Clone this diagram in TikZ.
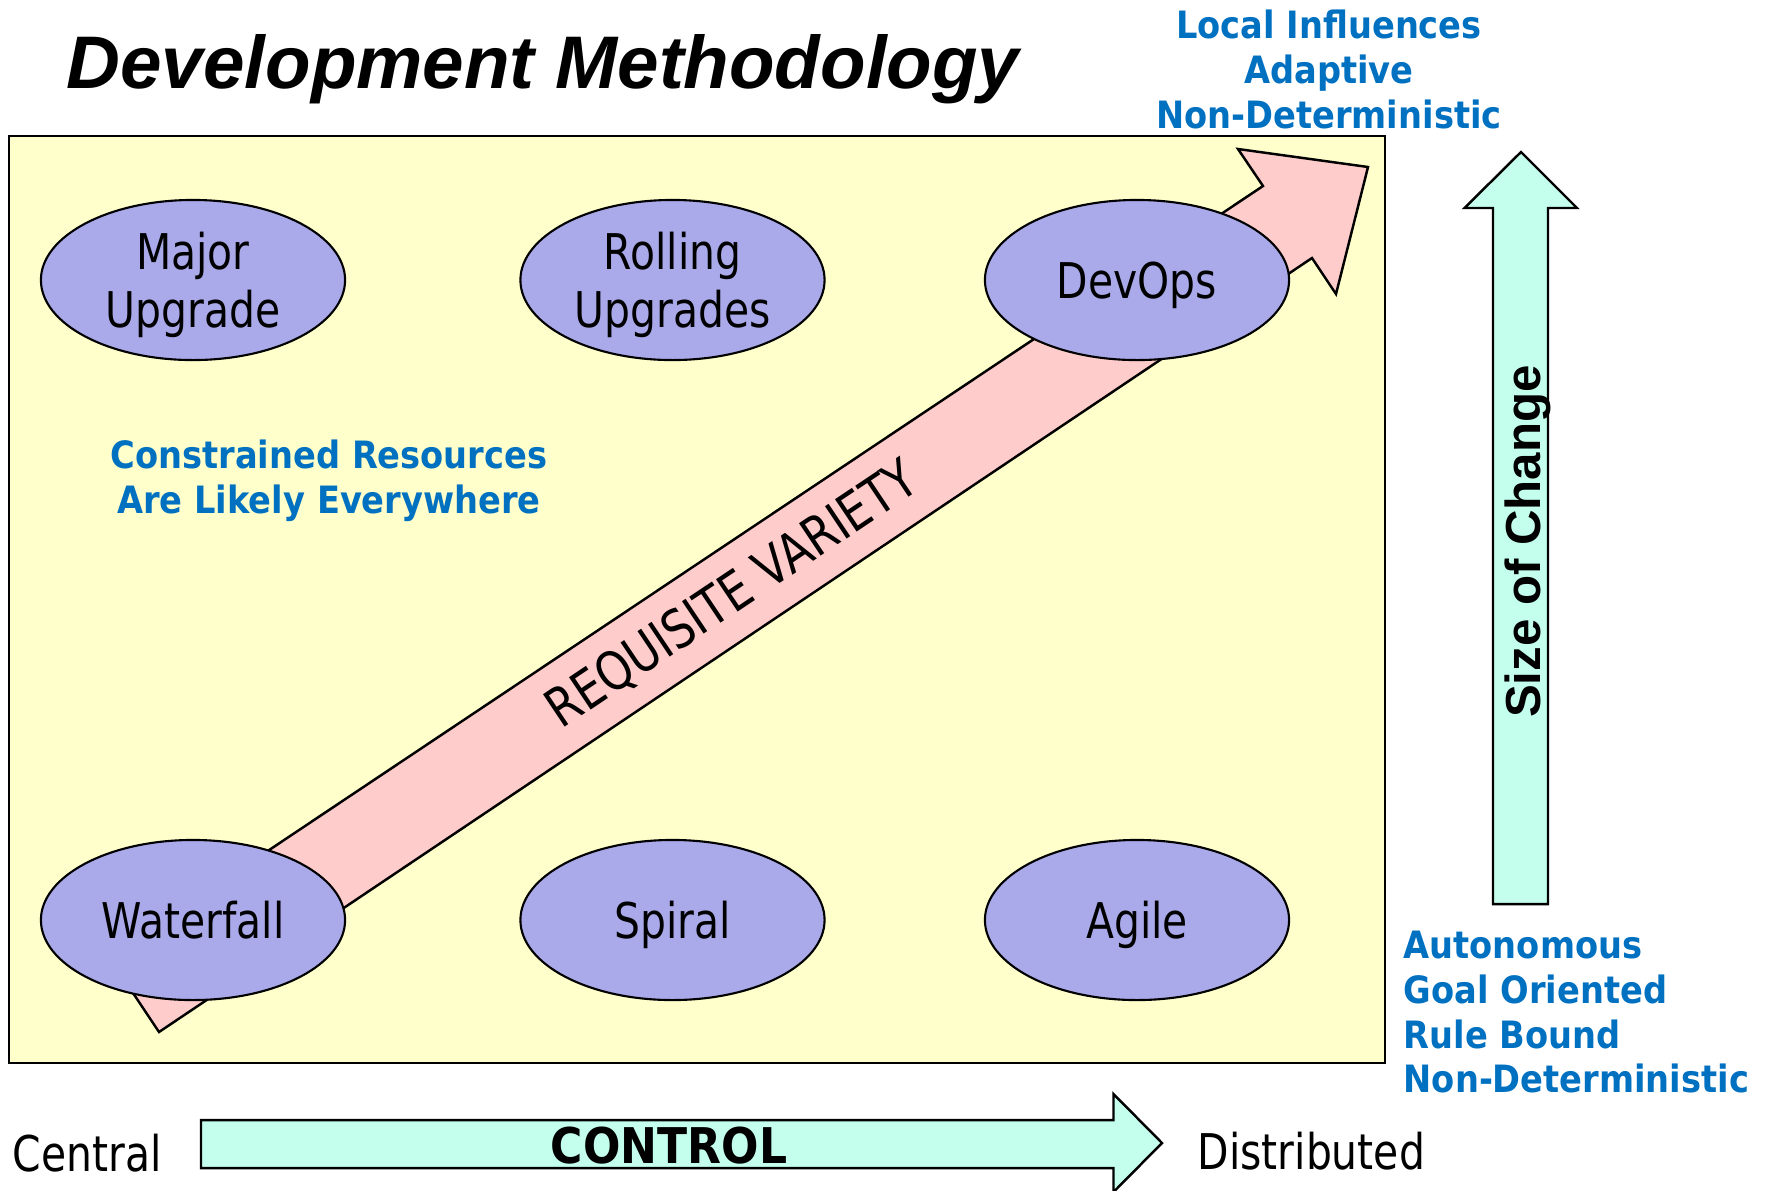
\documentclass[tikz,border=0pt]{standalone}
\usepackage{fontspec}
\usepackage{tikz}
\usetikzlibrary{shapes.geometric}

\newfontfamily\bodyfont{DejaVu Sans}[FakeStretch=0.83]
\newfontfamily\boldfont{DejaVu Sans}[FakeStretch=0.895]
\newfontfamily\titlefont{Liberation Sans}

\definecolor{boxyellow}{RGB}{255,255,204}
\definecolor{ovalblue}{RGB}{170,170,234}
\definecolor{arrowpink}{RGB}{255,204,204}
\definecolor{arrowcyan}{RGB}{196,255,238}
\definecolor{noteblue}{RGB}{0,112,192}

\begin{document}
\begin{tikzpicture}[x=0.01cm, y=-0.01cm,
    method/.style={ellipse, draw=black, line width=0.6pt, fill=ovalblue, minimum width=3.04cm, minimum height=1.6cm, inner sep=0pt, outer sep=0pt, align=center, text depth=0pt, font=\bodyfont\fontsize{14}{16.5}\selectfont},
    note/.style={text=noteblue, inner sep=0pt, font=\boldfont\bfseries\fontsize{10.7}{12.66}\selectfont},
    plain/.style={inner sep=0pt, font=\bodyfont\fontsize{14}{16.5}\selectfont},
    blockarrow/.style={draw=black, line width=0.7pt, line join=miter}
]

\clip (0,0) rectangle (1769,1190);

% Title
\node[anchor=base west, inner sep=0pt, font=\titlefont\bfseries\itshape\fontsize{21.2}{25}\selectfont] (title) at (66,88) {Development Methodology};

% ===== PANEL =====
\draw[fill=boxyellow, line width=0.6pt] (9,136) rectangle (1385,1063);

% Requisite variety arrow (under the ovals)
\draw[blockarrow, fill=arrowpink] (159,1032) -- (109,957) -- (1263,186) -- (1238,149) -- (1368,167) -- (1336,294) -- (1312,258) -- cycle;
\node[plain, rotate=33.8, anchor=base, font=\bodyfont\fontsize{15.2}{17}\selectfont] (variety) at (742,609) {REQUISITE VARIETY};

% ===== METHODS =====
\node[method] (major) at (193,280) {Major\\Upgrade};
\node[method] (rolling) at (672.5,280) {Rolling\\Upgrades};
\node[method] (devops) at (1137,280) {DevOps};
\node[method] (waterfall) at (193,920) {Waterfall};
\node[method] (spiral) at (672.5,920) {Spiral};
\node[method] (agile) at (1137,920) {Agile};

\node[note, align=center, anchor=base] (constrained) at (329,513) {Constrained Resources\\Are Likely Everywhere};

% ===== SIZE OF CHANGE =====
\draw[blockarrow, fill=arrowcyan] (1493,904) -- (1493,208) -- (1464.5,208) -- (1521,152) -- (1577,208) -- (1548,208) -- (1548,904) -- cycle;
\node[rotate=90, anchor=base, inner sep=0pt, font=\titlefont\bfseries\fontsize{14}{17}\selectfont] (size) at (1540,541.5) {Size of Change};
\node[note, align=center, anchor=base] (local) at (1329,128) {Local Influences\\Adaptive\\Non-Deterministic};
\node[note, align=left, anchor=base west] (autonomous) at (1403,1092.5) {Autonomous\\Goal Oriented\\Rule Bound\\Non-Deterministic};

% ===== CONTROL =====
\draw[blockarrow, fill=arrowcyan] (201,1120) -- (1113.5,1120) -- (1113.5,1094) -- (1162,1143) -- (1113.5,1192) -- (1113.5,1168) -- (201,1168) -- cycle;
\node[inner sep=0pt, anchor=base, font=\boldfont\bfseries\fontsize{14}{17}\selectfont] (control) at (669,1163) {CONTROL};
\node[plain, anchor=base west] (central) at (12,1171) {Central};
\node[plain, anchor=base west] (distributed) at (1197,1169) {Distributed};

\end{tikzpicture}
\end{document}
